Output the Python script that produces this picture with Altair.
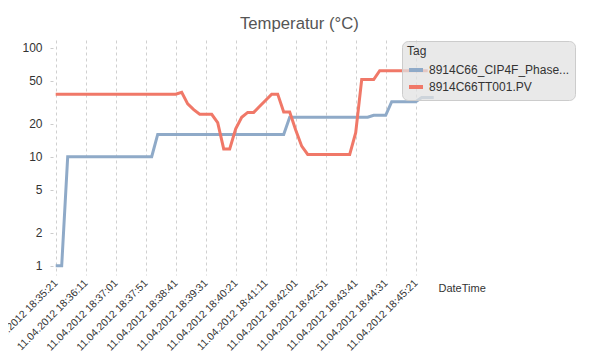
import altair as alt
import pandas as pd

# ---- data ----
series_names = ["8914C66_CIP4F_Phase...", "8914C66TT001.PV"]
series_colors = ["#8faac8", "#f07868"]

start_time = "2012-04-11 18:35:21"
step_seconds = 10

blue_values = [1, 1] + [10] * 15 + [16] * 22 + [23] * 14 + [24] * 3 + [32] * 5 + [35] * 3
red_values = ([37.5] * 21 + [39, 30.5, 27] + [24.5] * 3 + [20.5] + [11.8] * 2 + [18, 23]
              + [25.5] * 2 + [29, 33] + [37.5] * 2 + [25.7] * 2 + [17.6, 12.5] + [10.5] * 8
              + [16.6] + [51] * 3 + [61.5] * 9)

tick_labels = [
    "11.04.2012 18:35:21", "11.04.2012 18:36:11", "11.04.2012 18:37:01",
    "11.04.2012 18:37:51", "11.04.2012 18:38:41", "11.04.2012 18:39:31",
    "11.04.2012 18:40:21", "11.04.2012 18:41:11", "11.04.2012 18:42:01",
    "11.04.2012 18:42:51", "11.04.2012 18:43:41", "11.04.2012 18:44:31",
    "11.04.2012 18:45:21",
]
y_ticks = [1, 2, 5, 10, 20, 50, 100]

# ---- build table ----
rows = []
for name, vals in zip(series_names, [blue_values, red_values]):
    times = pd.date_range(start_time, periods=len(vals), freq=f"{step_seconds}s")
    for t, v in zip(times, vals):
        rows.append({"DateTime": t.strftime("%Y-%m-%dT%H:%M:%S"), "Value": v, "Tag": name})
df = pd.DataFrame(rows)


def to_dt(s, ms=0, shift=0):
    ts = pd.Timestamp(pd.to_datetime(s, format="%d.%m.%Y %H:%M:%S")) + pd.Timedelta(seconds=shift)
    return alt.DateTime(year=ts.year, month=ts.month, date=ts.day, hours=ts.hour,
                        minutes=ts.minute, seconds=ts.second, milliseconds=ms)


tick_values = [to_dt(s) for s in tick_labels]
x_domain = [to_dt(tick_labels[0], ms=500, shift=-5), to_dt(tick_labels[-1], ms=500, shift=35)]

FONT = "Liberation Sans"

chart = alt.Chart(df).mark_line(strokeWidth=3).encode(
    x=alt.X(
        "DateTime:T",
        scale=alt.Scale(domain=x_domain),
        axis=alt.Axis(
            values=tick_values,
            format="%d.%m.%Y %H:%M:%S",
            labelAngle=-45,
            labelAlign="right",
            labelBaseline="middle",
            labelPadding=6,
            labelOverlap=False,
            labelFontSize=10.5,
            labelColor="#333333",
            ticks=False,
            domain=False,
            grid=True,
            gridDash=[3, 3],
            gridColor="#d0d0d0",
            gridWidth=1,
            title="DateTime",
            titleX=385,
            titleY=16,
            titleAlign="left",
            titleBaseline="alphabetic",
            titleAngle=0,
            titleFontSize=11,
            titleFontWeight="normal",
            titleColor="#333333",
        ),
    ),
    y=alt.Y(
        "Value:Q",
        scale=alt.Scale(type="log", domain=[0.822, 117.7], nice=False),
        axis=alt.Axis(
            values=y_ticks,
            format="d",
            grid=False,
            domain=False,
            tickSize=3,
            tickColor="#cccccc",
            labelPadding=8,
            labelFontSize=12,
            labelColor="#333333",
            title=None,
        ),
    ),
    color=alt.Color(
        "Tag:N",
        scale=alt.Scale(domain=series_names, range=series_colors),
        legend=alt.Legend(
            orient="none",
            legendX=349,
            legendY=1,
            title="Tag",
            titleFontSize=12,
            titleFontWeight="normal",
            titleColor="#333333",
            titlePadding=3,
            labelFontSize=12,
            labelColor="#333333",
            labelLimit=250,
            symbolType="stroke",
            symbolStrokeWidth=4,
            symbolSize=196,
            rowPadding=0,
            padding=5,
            fillColor="rgba(226,226,226,0.75)",
            strokeColor="#cccccc",
            cornerRadius=6,
        ),
    ),
    order=alt.Order("Tag:N", sort="descending"),
).properties(
    width=384,
    height=235,
    title=alt.TitleParams(
        "Temperatur (°C)",
        anchor="start",
        frame="group",
        dx=187,
        dy=22,
        offset=16,
        baseline="alphabetic",
        fontSize=16.7,
        fontWeight="normal",
        color="#555555",
    ),
    autosize=alt.AutoSizeParams(type="none"),
    padding={"left": 45, "top": 32, "right": 149, "bottom": 78},
).configure(
    font=FONT,
    background="white",
).configure_view(
    stroke=None,
)

chart.save("out.html", embed_options={"renderer": "svg", "actions": False})
